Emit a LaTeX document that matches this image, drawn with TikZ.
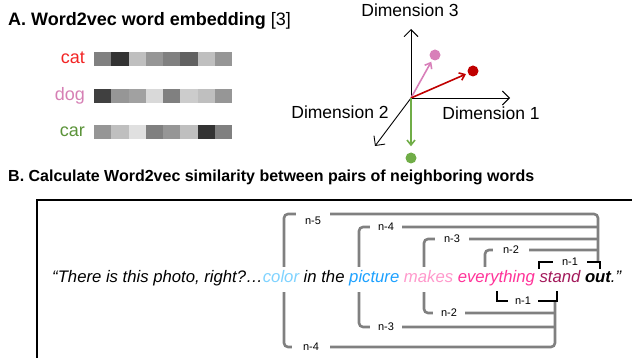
\documentclass[tikz,border=0pt]{standalone}
\usepackage{fontspec}
\setmainfont{Liberation Sans}
\usetikzlibrary{positioning}
\usetikzlibrary{arrows.meta}

\definecolor{catred}{HTML}{F22424}
\definecolor{dogpink}{HTML}{D67FB4}
\definecolor{cargreen}{HTML}{5B9339}
\definecolor{vecred}{HTML}{C00000}
\definecolor{vecpink}{HTML}{D87FB9}
\definecolor{vecgreen}{HTML}{70AD47}
\definecolor{colorblue}{HTML}{7FD3FF}
\definecolor{pictureblue}{HTML}{1CA1FF}
\definecolor{makespink}{HTML}{FF99CC}
\definecolor{everypink}{HTML}{FF3399}
\definecolor{standred}{HTML}{A3195B}

\tikzset{
  title/.style={anchor=base west, inner sep=0pt},
  wordlabel/.style={anchor=base east, inner sep=0pt, font=\fontsize{18}{21}\selectfont},
  dimlabel/.style={anchor=base, inner sep=0pt, font=\fontsize{17.5}{21}\selectfont},
  axis/.style={line width=0.9pt, -{Straight Barb[length=7pt,width=14pt]}},
  vec/.style={line width=1.6pt, -{Straight Barb[length=5pt,width=8pt]}, shorten >=2pt},
  dot/.style={circle, inner sep=0pt, minimum size=11pt},
  gbracket/.style={draw=black!50, line width=2.6pt, rounded corners=4pt},
  kbracket/.style={draw=black, line width=2.6pt},
  gap/.style={fill=white, inner sep=0pt, minimum height=9pt, font=\fontsize{11}{13}\selectfont},
  sentence/.style={anchor=base west, fill=white, inner xsep=0pt, inner ysep=2pt,
    text height=13pt, text depth=8pt, font=\itshape\fontsize{16.7}{19}\selectfont}
}

\begin{document}
\begin{tikzpicture}[x=1pt,y=-1pt]
  \useasboundingbox (0,0) rectangle (632,358);

  % Titles
  \node[title, font=\fontsize{18}{21}\selectfont] (titleA) at (8,26) {\textbf{A. Word2vec word embedding} [3]};
  \node[title, font=\bfseries\fontsize{16}{19}\selectfont] (titleB) at (8,182) {B. Calculate Word2vec similarity between pairs of neighboring words};

  % Embedding vectors
  \foreach \word/\col/\ytop/\shades in {cat/catred/52/{50,80,25,41,50,62,25,41},
      dog/dogpink/89/{75,41,37,15,50,20,25,41},
      car/cargreen/125/{41,25,12,50,41,25,80,50}} {
    \node[wordlabel, text=\col] (\word) at (85,\ytop+11.5) {\word};
    \foreach \s [count=\i from 0] in \shades
      \fill[black!\s] (94+17.25*\i,\ytop) rectangle ++(17.25,14);
  }

  % Axes
  \coordinate (O) at (411,98);
  \coordinate (d1) at (510,98);
  \coordinate (d2) at (375,146);
  \coordinate (d3) at (411,29);
  \draw[axis] (O) -- (d1);
  \draw[axis] (O) -- (d2);
  \draw[axis] (O) -- (d3);
  \node[dimlabel] (dim3) at (410,17) {Dimension 3};
  \node[dimlabel] (dim1) at (491,120) {Dimension 1};
  \node[dimlabel] (dim2) at (340,119) {Dimension 2};

  % Word vectors
  \node[dot, fill=vecpink] (pinkdot) at (435,55) {};
  \node[dot, fill=vecred] (reddot) at (473,71) {};
  \node[dot, fill=vecgreen] (greendot) at (411,158) {};
  \draw[vec, vecpink] (O) -- (pinkdot);
  \draw[vec, vecred] (O) -- (reddot);
  \draw[vec, vecgreen, shorten >=6pt] (O) -- (greendot);

  % Frame
  \draw[line width=1.8pt] (37,358) -- (37,200) -- (632,200);

  % Gray brackets
  \draw[gbracket] (598,262) |- (284,214) |- (555,347) -- (555,301);
  \draw[gbracket] (598,227) -- (359,227) -- (359,327) -- (555,327);
  \draw[gbracket] (598,239) -- (424,239) -- (424,313) -- (555,313);
  \draw[gbracket] (598,250) -- (485,250) -- (485,272);
  \node[gap, minimum width=34pt, minimum height=20pt] (t5) at (313,221) {n-5};
  \node[gap, minimum width=32pt] (t4) at (386,227) {n-4};
  \node[gap, minimum width=34pt] (t3) at (452,239) {n-3};
  \node[gap, minimum width=36pt] (t2) at (511,250) {n-2};
  \node[gap, minimum width=38pt] (b4) at (311,347) {n-4};
  \node[gap, minimum width=32pt] (b3) at (386,327) {n-3};
  \node[gap, minimum width=32pt] (b2) at (449,313) {n-2};

  % Sentence
  \node[sentence] (quote) at (52,282) {“There is this photo, right?…\textcolor{colorblue}{color} in the \textcolor{pictureblue}{picture} \textcolor{makespink}{makes} \textcolor{everypink}{everything} \textcolor{standred}{stand} \textbf{out}.”};

  % Black brackets
  \draw[kbracket] (539,269) -- (539,262) -- (600,262) -- (600,269);
  \draw[kbracket] (497,291) -- (497,301) -- (557,301) -- (557,291);
  \node[gap, minimum width=34pt] (t1) at (570,262) {n-1};
  \node[gap, minimum width=30pt] (b1) at (523,301) {n-1};

\end{tikzpicture}
\end{document}
